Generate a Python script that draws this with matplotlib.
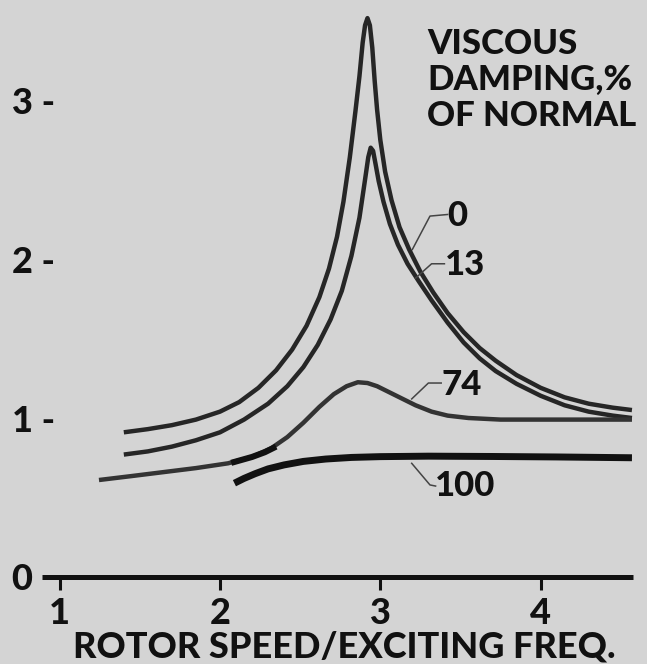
import matplotlib
matplotlib.use("Agg")
import matplotlib.pyplot as plt

# ---------------- data ----------------
damping_labels = ["0", "13", "74", "100"]

speed_0 = [1.40, 1.55, 1.70, 1.85, 2.00, 2.12, 2.24, 2.35, 2.45, 2.54, 2.62, 2.68,
           2.73, 2.77, 2.81, 2.845, 2.87, 2.89, 2.905, 2.92, 2.935, 2.95, 2.965,
           2.98, 3.00, 3.03, 3.07, 3.12, 3.18, 3.25, 3.33, 3.42, 3.52, 3.62, 3.72,
           3.85, 4.00, 4.15, 4.30, 4.45, 4.57]
amp_0 = [0.91, 0.93, 0.955, 0.99, 1.04, 1.10, 1.19, 1.30, 1.43, 1.58, 1.76, 1.94,
         2.14, 2.36, 2.64, 2.93, 3.15, 3.36, 3.47, 3.515, 3.47, 3.33, 3.12,
         2.94, 2.75, 2.55, 2.37, 2.20, 2.06, 1.92, 1.79, 1.66, 1.54, 1.44, 1.36,
         1.27, 1.19, 1.13, 1.09, 1.065, 1.05]

speed_13 = [1.40, 1.55, 1.70, 1.85, 2.00, 2.15, 2.30, 2.42, 2.52, 2.61, 2.69, 2.76,
            2.82, 2.87, 2.905, 2.925, 2.94, 2.955, 2.97, 2.99, 3.02, 3.06, 3.11,
            3.17, 3.24, 3.32, 3.42, 3.52, 3.62, 3.72, 3.85, 4.00, 4.15, 4.30,
            4.45, 4.57]
amp_13 = [0.77, 0.79, 0.82, 0.86, 0.91, 0.99, 1.09, 1.20, 1.32, 1.46, 1.62, 1.80,
          2.02, 2.26, 2.50, 2.64, 2.70, 2.68, 2.60, 2.49, 2.36, 2.22, 2.09,
          1.97, 1.86, 1.74, 1.60, 1.475, 1.375, 1.295, 1.215, 1.14, 1.08, 1.04,
          1.015, 1.00]

speed_74 = [1.245, 1.45, 1.65, 1.85, 2.05, 2.20, 2.32, 2.42, 2.52, 2.62, 2.71, 2.79,
            2.86, 2.92, 2.98, 3.05, 3.13, 3.22, 3.32, 3.42, 3.55, 3.75, 4.10, 4.57]
amp_74 = [0.61, 0.635, 0.66, 0.685, 0.715, 0.755, 0.81, 0.88, 0.97, 1.07, 1.15, 1.20,
          1.225, 1.22, 1.20, 1.165, 1.125, 1.08, 1.04, 1.015, 1.00, 0.99, 0.99, 0.99]
# heavier overdrawn stretch of the 74 % curve
speed_74_dark = [2.07, 2.20, 2.28, 2.35]
amp_74_dark = [0.718, 0.755, 0.785, 0.82]

speed_100 = [2.09, 2.15, 2.22, 2.30, 2.40, 2.52, 2.66, 2.82, 3.00, 3.30, 3.70, 4.10, 4.57]
amp_100 = [0.59, 0.62, 0.65, 0.68, 0.705, 0.727, 0.742, 0.752, 0.757, 0.760, 0.758,
           0.755, 0.750]

x_ticks = [1, 2, 3, 4]
y_ticks = [0, 1, 2, 3]

# ---------------- style ----------------
plt.rcParams["font.family"] = ["Lato", "DejaVu Sans"]
plt.rcParams["font.weight"] = "black"
plt.rcParams["axes.labelweight"] = "black"

BG = "#d4d4d4"
INK = "#111111"
LINE = "#262626"

fig = plt.figure(figsize=(6.47, 6.64), dpi=100, facecolor=BG)
W, H = 647, 664
ax_l, ax_r, ax_b, ax_t = 42, 633, 577, 0
ax = fig.add_axes([ax_l / W, (H - ax_b) / H, (ax_r - ax_l) / W, (ax_b - ax_t) / H],
                  facecolor=BG)
ax.set_xlim(0.8896, 4.5765)
ax.set_ylim(0, 3.629)

lw = 3.2
style = dict(solid_capstyle="butt", solid_joinstyle="round")
ax.plot(speed_0, amp_0, color=LINE, lw=lw, **style)
ax.plot(speed_13, amp_13, color=LINE, lw=lw, **style)
ax.plot(speed_74, amp_74, color="#333333", lw=lw, **style)
ax.plot(speed_74_dark, amp_74_dark, color=INK, lw=4.4, **style)
ax.plot(speed_100, amp_100, color=INK, lw=5.0, **style)

# curve labels with leader lines
leaders = {
    "0": ([3.20, 3.31, 3.42], [2.06, 2.27, 2.28]),
    "13": ([3.22, 3.32, 3.40], [1.88, 1.97, 1.97]),
    "74": ([3.196, 3.30, 3.38], [1.12, 1.22, 1.22]),
    "100": ([3.196, 3.31, 3.345], [0.715, 0.579, 0.572]),
}
label_pos = {"0": (3.42, 2.27), "13": (3.40, 1.96), "74": (3.38, 1.21), "100": (3.34, 0.57)}
for name in damping_labels:
    lx, ly = leaders[name]
    ax.plot(lx, ly, color="#444444", lw=1.1)
    tx, ty = label_pos[name]
    ax.text(tx, ty, name, fontsize=25, color=INK, ha="left", va="center")

# axes styling
for s in ["left", "right", "top"]:
    ax.spines[s].set_visible(False)
ax.spines["bottom"].set_linewidth(3.6)
ax.spines["bottom"].set_color(INK)
ax.spines["bottom"].set_capstyle("butt")

ax.set_xticks(x_ticks, labels=[str(v) for v in x_ticks])
ax.tick_params(axis="x", direction="out", length=9.4, width=2.2, color=INK,
               pad=5, labelsize=26, labelcolor=INK)
ax.set_yticks(y_ticks, labels=["0" if v == 0 else f"{v} -" for v in y_ticks])
ax.tick_params(axis="y", length=0, pad=-9.4, labelsize=26, labelcolor=INK)
ax.yaxis.get_major_ticks()[0].set_pad(7.2)

ax.set_xlabel("ROTOR SPEED/EXCITING FREQ.", fontsize=26, color=INK, va="baseline",
              fontweight="black")
ax.xaxis.set_label_coords((344.5 - ax_l) / (ax_r - ax_l), -(657 - ax_b) / (ax_b - ax_t))

fig.text(427 / W, 1 - 28 / H, "VISCOUS\nDAMPING,%\nOF NORMAL", fontsize=25,
         color=INK, ha="left", va="top", linespacing=1.15)

fig.savefig("out.png", dpi=100, facecolor=BG)
